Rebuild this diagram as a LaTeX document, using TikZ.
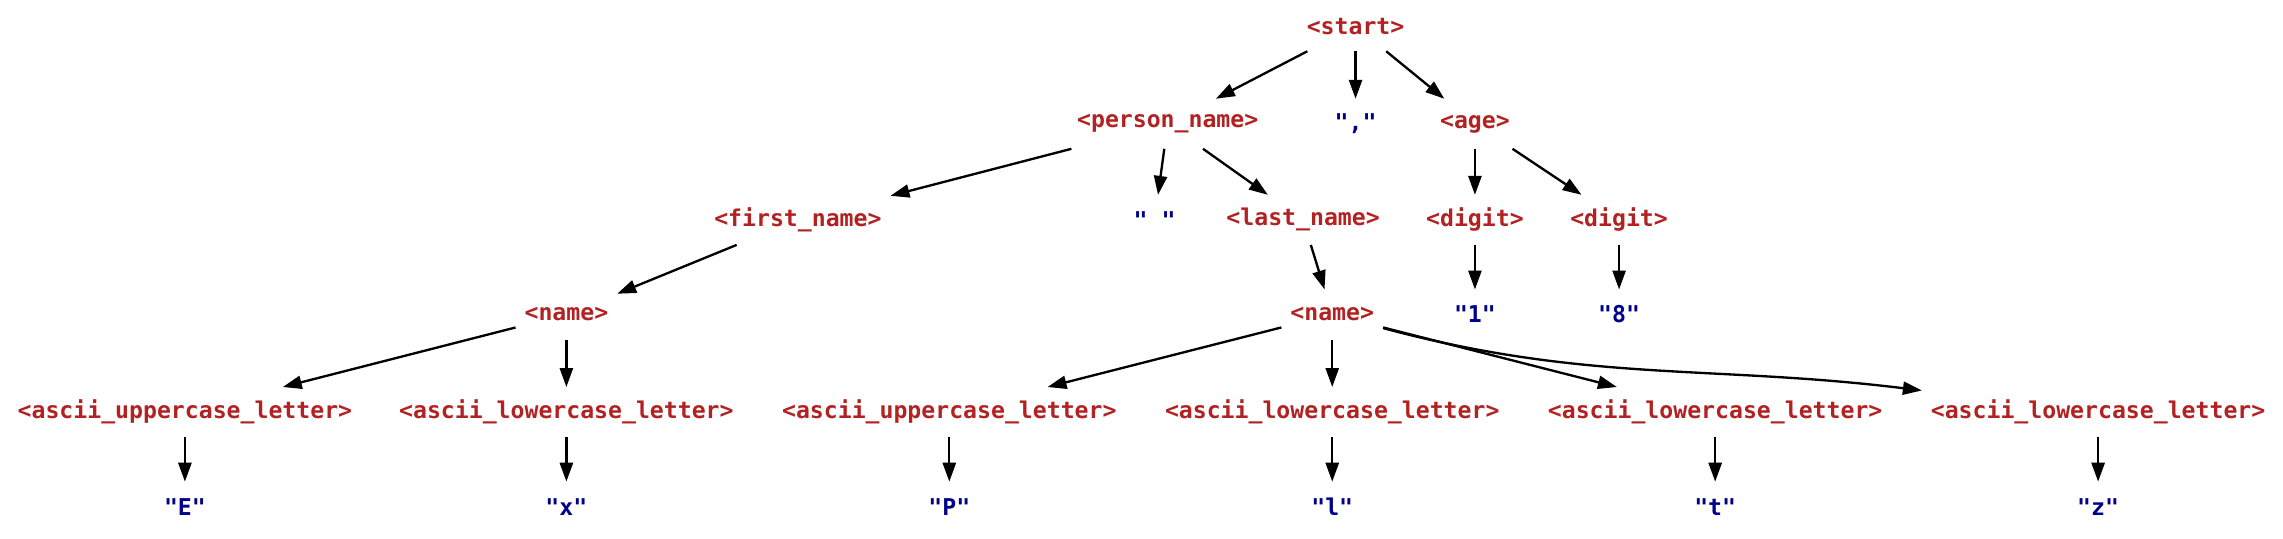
\documentclass[tikz,border=0pt]{standalone}
\usepackage{fontspec}
\setmonofont{DejaVu Sans Mono}
\usepackage{tikz}
\usetikzlibrary{arrows.meta}
\usepackage{xcolor}
\definecolor{symred}{HTML}{B22222}
\definecolor{litblue}{HTML}{00008B}
\tikzstyle{nonterminal}=[text=symred, font=\ttfamily\bfseries\fontsize{15.9}{19}\selectfont, minimum height=34pt, inner xsep=6pt, inner ysep=0pt]
\tikzstyle{terminal}=[nonterminal, text=litblue]
\tikzstyle{derives}=[line width=1.6pt, -{Triangle[length=13pt,width=9pt]}]
\begin{document}
\begin{tikzpicture}[x=1pt, y=-1pt]
	\useasboundingbox (0,0) rectangle (1568,370);
%
	\node[nonterminal] (start) at (931,18) {<start>};
%
	\node[nonterminal] (person) at (802,85) {<person\_name>};
	\node[terminal] (comma) at (931,85) {","};
	\node[nonterminal] (age) at (1013,85) {<age>};
%
	\node[nonterminal] (first) at (548,151) {<first\_name>};
	\node[terminal] (space) at (793,151) {" "};
	\node[nonterminal] (last) at (895,151) {<last\_name>};
	\node[nonterminal] (digitA) at (1013,151) {<digit>};
	\node[nonterminal] (digitB) at (1112,151) {<digit>};
%
	\node[nonterminal] (nameA) at (389,216) {<name>};
	\node[nonterminal] (nameB) at (915,216) {<name>};
	\node[terminal] (one) at (1013,216) {"1"};
	\node[terminal] (eight) at (1112,216) {"8"};
%
	\node[nonterminal] (upperA) at (127,283) {<ascii\_uppercase\_letter>};
	\node[nonterminal] (lowerA) at (389,283) {<ascii\_lowercase\_letter>};
	\node[nonterminal] (upperB) at (652,283) {<ascii\_uppercase\_letter>};
	\node[nonterminal] (lowerB) at (915,283) {<ascii\_lowercase\_letter>};
	\node[nonterminal] (lowerC) at (1178,283) {<ascii\_lowercase\_letter>};
	\node[nonterminal] (lowerD) at (1441,283) {<ascii\_lowercase\_letter>};
%
	\node[terminal] (litE) at (127,348) {"E"};
	\node[terminal] (litx) at (389,348) {"x"};
	\node[terminal] (litP) at (652,348) {"P"};
	\node[terminal] (litl) at (915,348) {"l"};
	\node[terminal] (litt) at (1178,348) {"t"};
	\node[terminal] (litz) at (1441,348) {"z"};
%
	\draw[derives] (start) -- (person);
	\draw[derives] (start) -- (comma);
	\draw[derives] (start) -- (age);
	\draw[derives] (person) -- (first);
	\draw[derives] (person) -- (space);
	\draw[derives] (person) -- (last);
	\draw[derives] (age) -- (digitA);
	\draw[derives] (age) -- (digitB);
	\draw[derives] (first) -- (nameA);
	\draw[derives] (last) -- (nameB);
	\draw[derives] (digitA) -- (one);
	\draw[derives] (digitB) -- (eight);
	\draw[derives] (nameA) -- (upperA);
	\draw[derives] (nameA) -- (lowerA);
	\draw[derives] (nameB) -- (upperB);
	\draw[derives] (nameB) -- (lowerB);
	\draw[derives] (nameB) -- (lowerC);
	\draw[derives] (nameB) to[out=-15, in=173] (lowerD);
%
	\draw[derives] (upperA) -- (litE);
	\draw[derives] (lowerA) -- (litx);
	\draw[derives] (upperB) -- (litP);
	\draw[derives] (lowerB) -- (litl);
	\draw[derives] (lowerC) -- (litt);
	\draw[derives] (lowerD) -- (litz);
\end{tikzpicture}
\end{document}
